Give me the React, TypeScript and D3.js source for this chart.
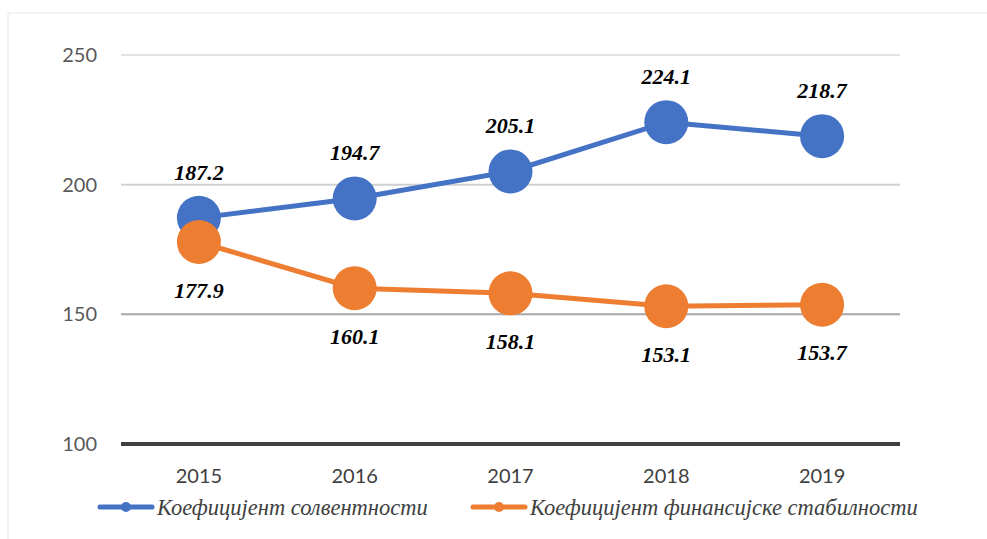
import * as d3 from 'd3';

const years = ['2015', '2016', '2017', '2018', '2019'];
const solvency = [187.2, 194.7, 205.1, 224.1, 218.7];
const stability = [177.9, 160.1, 158.1, 153.1, 153.7];
const yTicks = [100, 150, 200, 250];
const seriesNames = ['Коефицијент солвентности', 'Коефицијент финансијске стабилности'];
const colors = ['#4472c4', '#ed7d31'];

const width = 987;
const height = 539;
const margin = { top: 55, right: 87, bottom: 95, left: 121 };

const App = () => {
  const innerW = width - margin.left - margin.right;
  const innerH = height - margin.top - margin.bottom;

  const x = d3.scaleBand().domain(years).range([0, innerW]);
  const y = d3.scaleLinear().domain([100, 250]).range([innerH, 0]);
  const cx = (yr: string) => (x(yr) ?? 0) + x.bandwidth() / 2;

  const line = d3
    .line<number>()
    .x((_, i) => cx(years[i]))
    .y((d) => y(d));

  const series = [solvency, stability];
  // grid colours as in the source picture (the 150 line is darker)
  const gridColor = (t: number) => (t === 150 ? '#a6a6a6' : t === 200 ? '#d0d0d0' : '#e3e3e3');

  return (
    <svg
      width={width}
      height={height}
      style={{ position: 'absolute', left: 0, top: 0, background: '#fff' }}
    >
      <line x1={8} x2={8} y1={14} y2={height} stroke='#f0f0f0' strokeWidth={2} />
      <line x1={8} x2={width} y1={13} y2={13} stroke='#f4f4f4' strokeWidth={2} />
      <g transform={`translate(${margin.left},${margin.top})`}>
        {yTicks.map((t) => (
          <g key={t}>
            {t !== 100 && (
              <line x1={0} x2={innerW} y1={y(t)} y2={y(t)} stroke={gridColor(t)} strokeWidth={2} />
            )}
            <text
              x={-24}
              y={y(t)}
              dy='0.35em'
              textAnchor='end'
              fontFamily='Lato, "Open Sans", sans-serif'
              fontSize={20}
              fill='#595959'
            >
              {t}
            </text>
          </g>
        ))}
        <line x1={0} x2={innerW} y1={y(100)} y2={y(100)} stroke='#404040' strokeWidth={4} />
        {years.map((yr) => (
          <text
            key={yr}
            x={cx(yr)}
            y={innerH + 32}
            dy='0.35em'
            textAnchor='middle'
            fontFamily='Lato, "Open Sans", sans-serif'
            fontSize={20}
            fill='#404040'
          >
            {yr}
          </text>
        ))}
        {series.map((s, si) => (
          <g key={si}>
            <path d={line(s) ?? ''} fill='none' stroke={colors[si]} strokeWidth={5} />
            {s.map((v, i) => (
              <circle key={i} cx={cx(years[i])} cy={y(v)} r={22} fill={colors[si]} />
            ))}
          </g>
        ))}
        {series.map((s, si) =>
          s.map((v, i) => (
            <text
              key={`${si}-${i}`}
              x={cx(years[i])}
              y={y(v) + (si === 0 ? -46 : 48)}
              dy='0.35em'
              textAnchor='middle'
              fontFamily='"Liberation Serif", "DejaVu Serif", serif'
              fontWeight='bold'
              fontStyle='italic'
              fontSize={22}
              fill='#000'
            >
              {v.toFixed(1)}
            </text>
          ))
        )}
      </g>
      <g transform='translate(0,507)'>
        {seriesNames.map((name, i) => {
          const x0 = i === 0 ? 100 : 473;
          return (
            <g key={name} transform={`translate(${x0},0)`}>
              <line x1={0} x2={52} y1={0} y2={0} stroke={colors[i]} strokeWidth={5} strokeLinecap='round' />
              <circle cx={26} cy={0} r={5} fill={colors[i]} />
              <text
                x={57}
                y={0}
                dy='0.35em'
                fontFamily='"Liberation Serif", "DejaVu Serif", serif'
                fontStyle='italic'
                fontSize={22.5}
                fill='#404040'
              >
                {name}
              </text>
            </g>
          );
        })}
      </g>
    </svg>
  );
};

export default App;
